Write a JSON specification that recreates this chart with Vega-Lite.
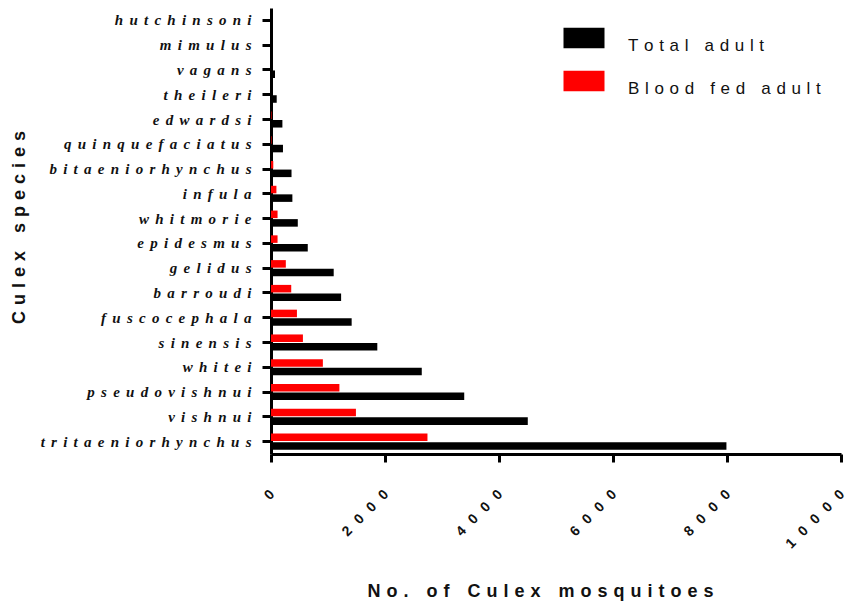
{
  "$schema": "https://vega.github.io/schema/vega-lite/v6.json",
  "autosize": "none",
  "width": 570,
  "height": 446,
  "padding": {"left": 271, "top": 8, "right": 6, "bottom": 152},
  "background": "white",
  "data": {
    "values": [
      {"species": "hutchinsoni", "group": "Total adult", "count": 10},
      {"species": "mimulus", "group": "Total adult", "count": 15},
      {"species": "vagans", "group": "Total adult", "count": 70},
      {"species": "theileri", "group": "Total adult", "count": 100},
      {"species": "edwardsi", "group": "Total adult", "count": 200},
      {"species": "quinquefaciatus", "group": "Total adult", "count": 210},
      {"species": "bitaeniorhynchus", "group": "Total adult", "count": 360},
      {"species": "infula", "group": "Total adult", "count": 375},
      {"species": "whitmorie", "group": "Total adult", "count": 470},
      {"species": "epidesmus", "group": "Total adult", "count": 645},
      {"species": "gelidus", "group": "Total adult", "count": 1100},
      {"species": "barroudi", "group": "Total adult", "count": 1230},
      {"species": "fuscocephala", "group": "Total adult", "count": 1415},
      {"species": "sinensis", "group": "Total adult", "count": 1865},
      {"species": "whitei", "group": "Total adult", "count": 2645},
      {"species": "pseudovishnui", "group": "Total adult", "count": 3390},
      {"species": "vishnui", "group": "Total adult", "count": 4505},
      {"species": "tritaeniorhynchus", "group": "Total adult", "count": 7990},
      {"species": "hutchinsoni", "group": "Blood fed adult", "count": 0},
      {"species": "mimulus", "group": "Blood fed adult", "count": 0},
      {"species": "vagans", "group": "Blood fed adult", "count": 0},
      {"species": "theileri", "group": "Blood fed adult", "count": 0},
      {"species": "edwardsi", "group": "Blood fed adult", "count": 10},
      {"species": "quinquefaciatus", "group": "Blood fed adult", "count": 10},
      {"species": "bitaeniorhynchus", "group": "Blood fed adult", "count": 40},
      {"species": "infula", "group": "Blood fed adult", "count": 95},
      {"species": "whitmorie", "group": "Blood fed adult", "count": 115},
      {"species": "epidesmus", "group": "Blood fed adult", "count": 115},
      {"species": "gelidus", "group": "Blood fed adult", "count": 260},
      {"species": "barroudi", "group": "Blood fed adult", "count": 355},
      {"species": "fuscocephala", "group": "Blood fed adult", "count": 455},
      {"species": "sinensis", "group": "Blood fed adult", "count": 560},
      {"species": "whitei", "group": "Blood fed adult", "count": 910},
      {"species": "pseudovishnui", "group": "Blood fed adult", "count": 1200},
      {"species": "vishnui", "group": "Blood fed adult", "count": 1490},
      {"species": "tritaeniorhynchus", "group": "Blood fed adult", "count": 2745}
    ]
  },
  "mark": {"type": "bar", "cornerRadius": 0},
  "encoding": {
    "y": {
      "field": "species",
      "type": "nominal",
      "sort": ["hutchinsoni", "mimulus", "vagans", "theileri", "edwardsi", "quinquefaciatus", "bitaeniorhynchus", "infula", "whitmorie", "epidesmus", "gelidus", "barroudi", "fuscocephala", "sinensis", "whitei", "pseudovishnui", "vishnui", "tritaeniorhynchus"],
      "scale": {"paddingInner": 0.35, "paddingOuter": 0.175},
      "axis": {
        "title": "C\u2004u\u2004l\u2004e\u2004x\u2004\u2004\u2004s\u2004p\u2004e\u2004c\u2004i\u2004e\u2004s",
        "titleFont": "Liberation Sans",
        "titleFontSize": 18,
        "titleFontWeight": "bold",
        "titleColor": "#111",
        "titleX": -247,
        "titleY": 219,
        "titleBaseline": "alphabetic",
        "titleAlign": "center",
        "labelFont": "Liberation Serif",
        "labelFontSize": 15,
        "labelFontStyle": "italic",
        "labelFontWeight": "bold",
        "labelColor": "#111",
        "labelPadding": 11,
        "labelLimit": 320,
        "labelExpr": "join(split(datum.label, ''), '\u2005\u2006')",
        "domainColor": "black",
        "domainWidth": 3,
        "tickColor": "black",
        "tickWidth": 3,
        "tickSize": 9
      }
    },
    "yOffset": {
      "field": "group",
      "type": "nominal",
      "sort": ["Blood fed adult", "Total adult"],
      "scale": {"paddingInner": 0.12}
    },
    "x": {
      "field": "count",
      "type": "quantitative",
      "scale": {"domain": [0, 10000], "nice": false},
      "axis": {
        "values": [0, 2000, 4000, 6000, 8000, 10000],
        "format": "d",
        "grid": false,
        "title": "N\u2004o\u2004.\u2004\u2004\u2004o\u2004f\u2004\u2004\u2004C\u2004u\u2004l\u2004e\u2004x\u2004\u2004\u2004m\u2004o\u2004s\u2004q\u2004u\u2004i\u2004t\u2004o\u2004e\u2004s",
        "titleFont": "Liberation Sans",
        "titleFontSize": 18,
        "titleFontWeight": "bold",
        "titleColor": "#111",
        "titlePadding": 32,
        "titleX": 269,
        "labelFont": "Liberation Sans",
        "labelFontSize": 14,
        "labelFontWeight": "bold",
        "labelColor": "#111",
        "labelAngle": -45,
        "labelPadding": 25,
        "labelOffset": -4,
        "labelExpr": "join(split(datum.label, ''), '\u2002\u2006')",
        "domainColor": "black",
        "domainWidth": 3,
        "tickColor": "black",
        "tickWidth": 3,
        "tickSize": 8
      }
    },
    "color": {
      "field": "group",
      "type": "nominal",
      "scale": {"domain": ["Total adult", "Blood fed adult"], "range": ["black", "#ff0000"]},
      "legend": {
        "title": null,
        "orient": "none",
        "legendX": 288,
        "legendY": 5,
        "symbolType": "M-0.82,-0.41H0.82V0.41H-0.82Z",
        "symbolSize": 2500,
        "symbolStrokeWidth": 0,
        "labelFont": "Liberation Sans",
        "labelFontSize": 17,
        "labelColor": "#111",
        "labelOffset": 19,
        "labelBaseline": "top",
        "labelLimit": 400,
        "labelExpr": "join(split(datum.label, ''), '\u2004')"
      }
    }
  },
  "config": {"view": {"stroke": null}}
}
